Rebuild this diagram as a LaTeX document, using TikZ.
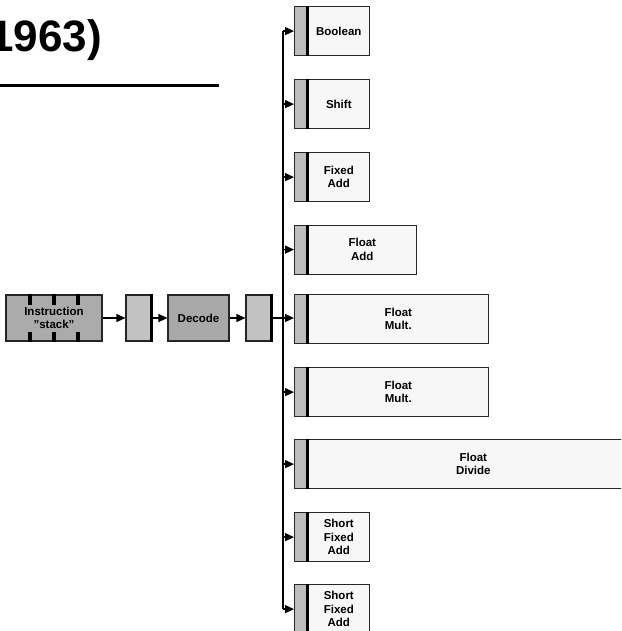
\documentclass[tikz,border=0pt]{standalone}
\usepackage{fontspec}
\setmainfont{Liberation Sans}
\usetikzlibrary{arrows.meta}
\definecolor{edge}{HTML}{262626}
\definecolor{stripfill}{HTML}{BDBDBD}
\definecolor{bodyfill}{HTML}{F7F7F7}
\definecolor{stackfill}{HTML}{ABABAB}
\definecolor{regfill}{HTML}{C2C2C2}
\definecolor{decfill}{HTML}{A9A9A9}
\tikzset{
  lab/.style={font=\fontsize{11.5}{13.5}\selectfont\bfseries, align=center},
  ubody/.style={draw=edge, fill=bodyfill, line width=1.2pt, minimum height=49pt, inner sep=0pt, anchor=north west, lab},
  ustrip/.style={draw=edge, fill=stripfill, line width=1.2pt, minimum width=12.5pt, minimum height=49pt, inner sep=0pt, anchor=north west},
  sepline/.style={line width=3pt, black},
  regbox/.style={draw=edge, fill=regfill, line width=1.2pt, minimum width=26pt, minimum height=46pt, inner sep=0pt},
  stagebox/.style={draw=edge, line width=1.2pt, minimum height=46pt, inner sep=0pt, lab},
  arr/.style={line width=1.3pt, black, -{Triangle[length=9pt,width=8pt]}},
  busline/.style={line width=1.3pt, black},
  tick/.style={fill=black, draw=none},
}
\begin{document}
\begin{tikzpicture}[x=1pt,y=-1pt]
\useasboundingbox (0,0) rectangle (621,631);
\clip (0,0) rectangle (621,631);
% title
\node[anchor=base east, inner sep=0pt, font=\fontsize{44}{48}\selectfont\bfseries] (title) at (102,52) {1963)};
\coordinate (tl) at (0,86);
\coordinate (tr) at (219,86);
\draw[line width=3pt] (tl) -- (tr);
% pipeline row
\node[stagebox, fill=stackfill, minimum width=96pt] (stack) at (54,318) {Instruction\\\char"22 stack\char"22};
\foreach \x in {30,54,78}{
  \fill[tick] ([xshift=\x pt-56pt]stack.north) rectangle ++(4,11);
  \fill[tick] ([xshift=\x pt-56pt]stack.south) rectangle ++(4,-10);
}
\node[regbox] (r1) at (139,318) {};
\draw[sepline] ([xshift=-1.5pt]r1.north east) -- ([xshift=-1.5pt]r1.south east);
\node[stagebox, fill=decfill, minimum width=61pt] (dec) at (198.5,318) {Decode};
\node[regbox] (r2) at (259,318) {};
\draw[sepline] ([xshift=-1.5pt]r2.north east) -- ([xshift=-1.5pt]r2.south east);
\draw[arr] (stack.east) -- (r1.west);
\draw[arr] (r1.east) -- (dec.west);
\draw[arr] (dec.east) -- (r2.west);
% functional units
\foreach \i/\top/\w/\txt in {
  1/6/61/{Boolean},
  2/79/61/{Shift},
  3/152/61/{Fixed\\Add},
  4/224.5/108/{Float\\Add},
  5/294/180/{Float\\Mult.},
  6/367/180/{Float\\Mult.},
  7/439/330/{Float\\Divide},
  8/512/61/{Short\\Fixed\\Add},
  9/584/61/{Short\\Fixed\\Add}}{
  \node[ustrip] (s\i) at (294,\top) {};
  \node[ubody, minimum width=\w pt] (b\i) at (s\i.north east) {\txt};
  \draw[sepline] (s\i.north east) -- (s\i.south east);
}
% bus
\coordinate (bustop) at (283,30.5);
\coordinate (busbot) at (283,608.5);
\draw[busline] (bustop |- s1.west) -- (busbot |- s9.west);
\foreach \i in {1,2,3,4,6,7,8,9}{
  \draw[arr] (bustop |- s\i.west) -- (s\i.west);
}
\draw[arr] (r2.east) -- (r2.east -| s5.west);
\end{tikzpicture}
\end{document}
